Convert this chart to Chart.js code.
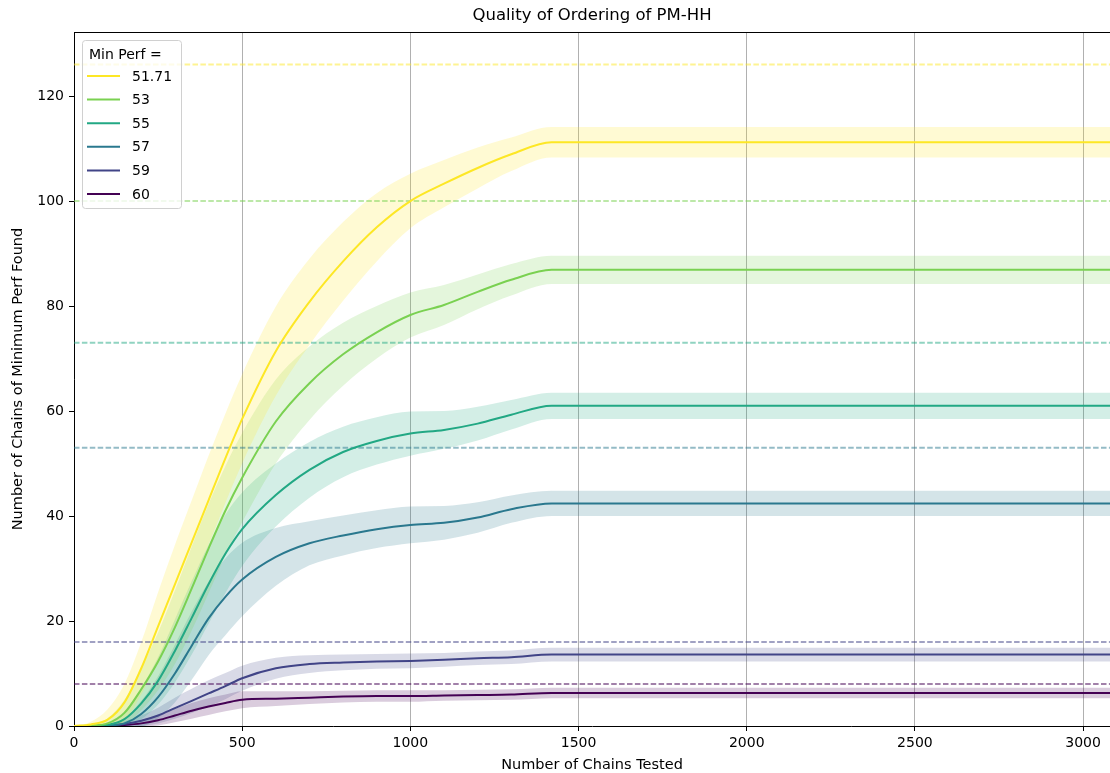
<!DOCTYPE html>
<html>
<head>
<meta charset="utf-8">
<script src="https://cdn.jsdelivr.net/npm/chart.js@4.4.1/dist/chart.umd.min.js"></script>
<style>
  html, body { margin: 0; padding: 0; background: #ffffff; overflow: hidden; }
  #wrap { width: 1110px; height: 773px; }
</style>
</head>
<body>
<div id="wrap"><canvas id="c" width="1110" height="773"></canvas></div>
<script>
// ---- data ----
const chartTitle = 'Quality of Ordering of PM-HH';
const xTitle = 'Number of Chains Tested';
const yTitle = 'Number of Chains of Minimum Perf Found';
const legendTitle = 'Min Perf =';
const minPerfLabels = ['51.71', '53', '55', '57', '59', '60'];
const chainsTested = [0, 50, 100, 150, 200, 250, 300, 350, 400, 450, 500, 600, 700, 800, 900, 1000, 1100, 1200, 1300, 1420, 3080];

const mean5171 = [0, 0.3, 1.2, 4.5, 11, 19, 27, 35, 43, 51, 58.5, 71.4, 80.8, 88.5, 95, 100, 103.3, 106.3, 108.9, 111.2, 111.2];
const mean53   = [0, 0.1, 0.5, 2.5, 7, 12.3, 18.8, 26.2, 33.8, 41, 47.3, 58, 65.3, 70.8, 75, 78.3, 80.2, 82.7, 85, 86.9, 86.9];
const mean55   = [0, 0, 0.2, 1.3, 4.3, 8.6, 14.3, 20.6, 27, 32.8, 37.5, 44, 48.8, 52.2, 54.3, 55.7, 56.4, 57.6, 59.3, 61, 61];
const mean57   = [0, 0, 0.1, 0.5, 2.3, 5.5, 10, 15.3, 20.5, 24.6, 27.9, 32.2, 34.8, 36.3, 37.5, 38.3, 38.7, 39.7, 41.3, 42.4, 42.4];
const mean59   = [0, 0, 0.1, 0.4, 1, 2, 3.4, 4.8, 6.2, 7.6, 9.1, 11, 11.8, 12.1, 12.3, 12.4, 12.6, 12.9, 13.1, 13.6, 13.6];
const mean60   = [0, 0, 0.05, 0.2, 0.5, 1.1, 2, 2.9, 3.7, 4.4, 5, 5.2, 5.4, 5.6, 5.7, 5.7, 5.8, 5.9, 6, 6.3, 6.3];

const spread5171 = [0, 0.5, 2, 3.5, 5, 6.5, 7.5, 8, 8.5, 8.5, 8.5, 8.5, 8.2, 7.5, 6.5, 5.2, 4.5, 3.9, 3.2, 2.9, 2.9];
const spread53   = [0, 0.2, 1, 2.5, 4, 5.5, 7, 8, 8.5, 8.5, 8.5, 8, 7, 6, 5, 4.3, 3.8, 3.3, 3, 2.7, 2.7];
const spread55   = [0, 0, 0.5, 1.5, 3, 4.5, 6, 7, 7.5, 7.5, 7, 6, 5.3, 4.8, 4.5, 4.2, 3.6, 3.2, 2.8, 2.5, 2.5];
const spread57   = [0, 0, 0.3, 1, 2.5, 4, 5.5, 6.5, 7, 7.3, 7, 5.5, 4.2, 3.8, 3.6, 3.5, 3.2, 2.9, 2.6, 2.4, 2.4];
const spread59   = [0, 0, 0.2, 0.5, 1, 1.5, 2, 2.3, 2.5, 2.5, 2.4, 2, 1.7, 1.5, 1.4, 1.4, 1.3, 1.3, 1.3, 1.3, 1.3];
const spread60   = [0, 0, 0.1, 0.3, 0.6, 1, 1.3, 1.5, 1.6, 1.6, 1.6, 1.4, 1.2, 1.1, 1.1, 1.1, 1, 1, 1, 1, 1];

const thresholds = [126, 100, 73, 53, 16, 8];
const xTickValues = [0, 500, 1000, 1500, 2000, 2500, 3000];
const yTickValues = [0, 20, 40, 60, 80, 100, 120];
const xMin = 0, xMax = 3080, yMin = 0, yMax = 132.2;

// ---- styling ----
const colors = ['#fde725', '#7ad151', '#22a884', '#2a788e', '#414487', '#440154'];
const means = [mean5171, mean53, mean55, mean57, mean59, mean60];
const spreads = [spread5171, spread53, spread55, spread57, spread59, spread60];
const FONT = "'DejaVu Sans', sans-serif";

function rgba(hex, a) {
  const n = parseInt(hex.slice(1), 16);
  return `rgba(${(n >> 16) & 255},${(n >> 8) & 255},${n & 255},${a})`;
}

const datasets = [];
minPerfLabels.forEach((lab, i) => {
  const m = means[i], s = spreads[i];
  datasets.push({
    label: lab + ' upper', isBand: true,
    data: chainsTested.map((x, j) => ({ x, y: m[j] + s[j] })),
    borderWidth: 0, borderColor: 'rgba(0,0,0,0)', pointRadius: 0, fill: false,
    cubicInterpolationMode: 'monotone', order: 3
  });
  datasets.push({
    label: lab + ' lower', isBand: true,
    data: chainsTested.map((x, j) => ({ x, y: m[j] - s[j] })),
    borderWidth: 0, borderColor: 'rgba(0,0,0,0)', pointRadius: 0,
    fill: '-1', backgroundColor: rgba(colors[i], 0.2),
    cubicInterpolationMode: 'monotone', order: 3
  });
});
thresholds.forEach((t, i) => {
  datasets.push({
    label: 'threshold ' + minPerfLabels[i], isBand: true,
    data: [{ x: xMin, y: t }, { x: xMax, y: t }],
    borderColor: rgba(colors[i], 0.5), borderWidth: 2, borderDash: [5.5, 2.4],
    pointRadius: 0, fill: false, order: 2
  });
});
minPerfLabels.forEach((lab, i) => {
  datasets.push({
    label: lab, isMain: true,
    data: chainsTested.map((x, j) => ({ x, y: means[i][j] })),
    borderColor: colors[i], borderWidth: 2, pointRadius: 0, fill: false,
    cubicInterpolationMode: 'monotone', order: 1 + i * 0.01
  });
});

const decor = {
  id: 'decor',
  afterDraw(chart) {
    const ctx = chart.ctx, a = chart.chartArea;
    ctx.save();
    // top spine
    ctx.strokeStyle = '#000'; ctx.lineWidth = 1;
    ctx.beginPath(); ctx.moveTo(a.left, a.top + 0.5); ctx.lineTo(a.right, a.top + 0.5); ctx.stroke();
    // title
    ctx.fillStyle = '#000';
    ctx.textAlign = 'center'; ctx.textBaseline = 'middle';
    ctx.font = `16.5px ${FONT}`;
    ctx.fillText(chartTitle, (a.left + a.right) / 2, 16);
    ctx.font = `14.5px ${FONT}`;
    ctx.fillText(xTitle, (a.left + a.right) / 2, 765);
    ctx.save();
    ctx.translate(18, (a.top + a.bottom) / 2);
    ctx.rotate(-Math.PI / 2);
    ctx.fillText(yTitle, 0, 0);
    ctx.restore();
    // legend
    const bx = 82.5, by = 40.5, bw = 99, bh = 168, r = 3;
    ctx.beginPath();
    ctx.moveTo(bx + r, by);
    ctx.lineTo(bx + bw - r, by); ctx.quadraticCurveTo(bx + bw, by, bx + bw, by + r);
    ctx.lineTo(bx + bw, by + bh - r); ctx.quadraticCurveTo(bx + bw, by + bh, bx + bw - r, by + bh);
    ctx.lineTo(bx + r, by + bh); ctx.quadraticCurveTo(bx, by + bh, bx, by + bh - r);
    ctx.lineTo(bx, by + r); ctx.quadraticCurveTo(bx, by, bx + r, by);
    ctx.closePath();
    ctx.fillStyle = 'rgba(255,255,255,0.8)'; ctx.fill();
    ctx.strokeStyle = '#d0d0d0'; ctx.lineWidth = 1; ctx.stroke();
    ctx.fillStyle = '#000'; ctx.textAlign = 'left'; ctx.textBaseline = 'middle';
    ctx.font = `14px ${FONT}`;
    ctx.fillText(legendTitle, 89, 55);
    const mains = chart.data.datasets.filter(d => d.isMain);
    mains.forEach((d, k) => {
      const y = 76 + k * 23.6;
      ctx.strokeStyle = d.borderColor; ctx.lineWidth = 2;
      ctx.beginPath(); ctx.moveTo(87, y); ctx.lineTo(120, y); ctx.stroke();
      ctx.fillStyle = '#000';
      ctx.fillText(d.label, 132, y + 1);
    });
    ctx.restore();
  }
};

Chart.defaults.color = '#000';
Chart.defaults.font.family = FONT;
Chart.defaults.font.size = 14;

new Chart(document.getElementById('c'), {
  type: 'line',
  data: { datasets },
  options: {
    responsive: false, animation: false, devicePixelRatio: 1,
    layout: { padding: { top: 32, left: 0, right: 0, bottom: 0 } },
    plugins: { legend: { display: false }, tooltip: { enabled: false }, title: { display: false } },
    elements: { point: { radius: 0 } },
    scales: {
      x: {
        type: 'linear', min: xMin, max: xMax,
        afterBuildTicks(s) { s.ticks = xTickValues.map(v => ({ value: v })); },
        afterFit(s) { s.height = 47; s.paddingRight = 0; },
        ticks: { padding: 4, maxRotation: 0, autoSkip: false, color: '#000', font: { size: 14 }, callback: v => String(v) },
        grid: { color: '#b0b0b0', lineWidth: 1, tickColor: '#000', tickLength: 5 },
        border: { color: '#000', width: 1 }
      },
      y: {
        type: 'linear', min: yMin, max: yMax,
        afterBuildTicks(s) { s.ticks = yTickValues.map(v => ({ value: v })); },
        afterFit(s) { s.width = 74; },
        ticks: { padding: 5, autoSkip: false, color: '#000', font: { size: 14 }, callback: v => String(v) },
        grid: { drawOnChartArea: false, tickColor: '#000', tickLength: 5 },
        border: { color: '#000', width: 1 }
      }
    }
  },
  plugins: [decor]
});
</script>
</body>
</html>
